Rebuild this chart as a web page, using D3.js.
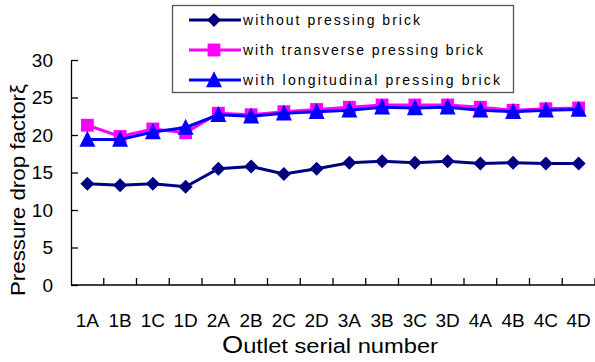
<!DOCTYPE html>
<html>
<head>
<meta charset="utf-8">
<script src="https://cdn.jsdelivr.net/npm/d3@7"></script>
<style>
  body { margin: 0; background: #fff; }
  svg { display: block; font-family: "Liberation Sans", Arial, sans-serif; }
</style>
</head>
<body>
<div id="chart"></div>
<script>
'use strict';

// Outlet categories and pressure drop factor per series
const outlets = ['1A', '1B', '1C', '1D', '2A', '2B', '2C', '2D',
                 '3A', '3B', '3C', '3D', '4A', '4B', '4C', '4D'];
const withoutBrick = [13.5, 13.3, 13.5, 13.1, 15.5, 15.8, 14.8, 15.5,
                      16.3, 16.5, 16.3, 16.5, 16.2, 16.3, 16.2, 16.2];
const transverseBrick = [21.3, 19.8, 20.8, 20.3, 22.9, 22.7, 23.1, 23.4,
                         23.7, 24.0, 24.0, 24.0, 23.7, 23.3, 23.5, 23.6];
const longitudinalBrick = [19.4, 19.4, 20.4, 21.0, 22.7, 22.5, 22.9, 23.1,
                           23.3, 23.7, 23.6, 23.7, 23.3, 23.1, 23.3, 23.4];
const yTicks = [0, 5, 10, 15, 20, 25, 30];

const seriesNames = ['without pressing brick',
                     'with transverse pressing brick',
                     'with longitudinal pressing brick'];

const width = 595, height = 362;
const plotLeft = 71, plotRight = 595, plotTop = 60, plotBottom = 285;

// Triangle marker a bit taller than equilateral, like the original
const tallTriangle = {
    draw(context, size) {
        const w = Math.sqrt(size);
        context.moveTo(0, -w * 0.55);
        context.lineTo(w / 2, w * 0.45);
        context.lineTo(-w / 2, w * 0.45);
        context.closePath();
    }
};

const series = [
    { name: seriesNames[0], values: withoutBrick, color: '#000080', symbol: d3.symbolDiamond2, size: 125 },
    { name: seriesNames[1], values: transverseBrick, color: '#ff00ff', symbol: d3.symbolSquare2, size: 210 },
    { name: seriesNames[2], values: longitudinalBrick, color: '#0000ff', symbol: tallTriangle, size: 256 }
];

const svg = d3.select('#chart').append('svg')
    .attr('width', width)
    .attr('height', height);

const x = d3.scaleBand().domain(outlets).range([plotLeft, plotRight]).padding(0);
const y = d3.scaleLinear().domain([0, 30]).range([plotBottom, plotTop]);

// Y axis, ticks pointing inward
const yAxis = svg.append('g')
    .attr('transform', `translate(${plotLeft},0)`)
    .call(d3.axisLeft(y).tickValues(yTicks).tickSizeInner(-7).tickSizeOuter(0).tickPadding(18));
yAxis.select('.domain').attr('stroke', '#000').attr('stroke-width', 1.3);
yAxis.selectAll('.tick line').attr('stroke', '#000').attr('stroke-width', 1.3);
yAxis.selectAll('.tick text')
    .attr('font-size', 19)
    .attr('font-family', '"Liberation Sans", Arial, sans-serif')
    .attr('fill', '#000');

// X axis line and ticks at category boundaries
svg.append('line')
    .attr('x1', plotLeft).attr('x2', plotRight)
    .attr('y1', plotBottom).attr('y2', plotBottom)
    .attr('stroke', '#000').attr('stroke-width', 1.3);

svg.append('g').selectAll('line')
    .data(outlets)
    .join('line')
    .attr('x1', d => x(d) + x.bandwidth())
    .attr('x2', d => x(d) + x.bandwidth())
    .attr('y1', plotBottom)
    .attr('y2', plotBottom - 7)
    .attr('stroke', '#000').attr('stroke-width', 1.3);

svg.append('g').selectAll('text')
    .data(outlets)
    .join('text')
    .attr('x', d => x(d) + x.bandwidth() / 2)
    .attr('y', 327)
    .attr('text-anchor', 'middle')
    .attr('font-size', 19)
    .text(d => d);

// Axis titles
const xTitle = svg.append('text')
    .attr('x', 222)
    .attr('y', 353)
    .attr('textLength', 216)
    .attr('lengthAdjust', 'spacingAndGlyphs');
xTitle.append('tspan').attr('font-size', 23).text('O');
xTitle.append('tspan').attr('font-size', 20).text('utlet serial number');

svg.append('text')
    .attr('transform', 'translate(25,296) rotate(-90)')
    .attr('font-size', 21)
    .attr('textLength', 212)
    .attr('lengthAdjust', 'spacingAndGlyphs')
    .text('Pressure drop factorξ');

// Series lines and markers
const line = d3.line()
    .x((d, i) => x(outlets[i]) + x.bandwidth() / 2)
    .y(d => y(d));

series.forEach(s => {
    const g = svg.append('g');
    g.append('path')
        .attr('d', line(s.values))
        .attr('fill', 'none')
        .attr('stroke', s.color)
        .attr('stroke-width', 3);
    g.selectAll('path.marker')
        .data(s.values)
        .join('path')
        .classed('marker', true)
        .attr('transform', (d, i) => `translate(${x(outlets[i]) + x.bandwidth() / 2},${y(d)})`)
        .attr('d', d3.symbol().type(s.symbol).size(s.size))
        .attr('fill', s.color);
});

// Legend
const legend = svg.append('g');
legend.append('rect')
    .attr('x', 172.5).attr('y', 5.5)
    .attr('width', 341).attr('height', 87)
    .attr('fill', '#fff')
    .attr('stroke', '#555')
    .attr('stroke-width', 1.3);

const legendWidths = [177, 240, 257];
series.forEach((s, i) => {
    const ly = 20 + i * 30;
    legend.append('line')
        .attr('x1', 189).attr('x2', 241)
        .attr('y1', ly).attr('y2', ly)
        .attr('stroke', s.color).attr('stroke-width', 3);
    legend.append('path')
        .attr('transform', `translate(214,${ly})`)
        .attr('d', d3.symbol().type(s.symbol).size(s.size))
        .attr('fill', s.color);
    legend.append('text')
        .attr('x', 243)
        .attr('y', ly + 5)
        .attr('font-size', 14)
        .attr('textLength', legendWidths[i])
        .attr('lengthAdjust', 'spacing')
        .text(s.name);
});
</script>
</body>
</html>
